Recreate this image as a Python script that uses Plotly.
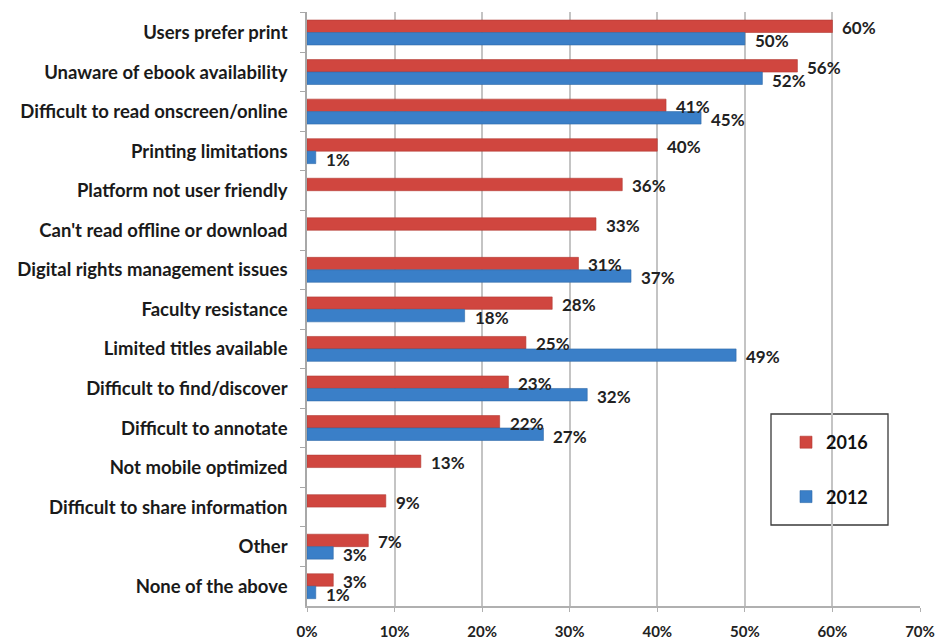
import plotly.graph_objects as go

# Reasons users give for not using ebooks, 2016 vs 2012 survey
categories = [
    "Users prefer print",
    "Unaware of ebook availability",
    "Difficult to read onscreen/online",
    "Printing limitations",
    "Platform not user friendly",
    "Can't read offline or download",
    "Digital rights management issues",
    "Faculty resistance",
    "Limited titles available",
    "Difficult to find/discover",
    "Difficult to annotate",
    "Not mobile optimized",
    "Difficult to share information",
    "Other",
    "None of the above",
]
values_2016 = [60, 56, 41, 40, 36, 33, 31, 28, 25, 23, 22, 13, 9, 7, 3]
values_2012 = [50, 52, 45, 1, None, None, 37, 18, 49, 32, 27, None, None, 3, 1]
x_ticks = [0, 10, 20, 30, 40, 50, 60, 70]

RED = "#D0463F"
BLUE = "#3A7FC8"
FONT = "Lato"

fig = go.Figure()
fig.add_trace(go.Bar(
    name="2016", y=categories, x=values_2016, orientation="h",
    marker=dict(color=RED, line=dict(color="#B23A34", width=0.6)),
    legendgroup="a",
))
fig.add_trace(go.Bar(
    name="2012", y=categories, x=values_2012, orientation="h",
    marker=dict(color=BLUE, line=dict(color="#2F69A8", width=0.6)),
    legendgroup="b",
))

# value labels just past the end of each bar
label_font = dict(family=FONT, size=17, color="#222222", weight=700)
annotations = []
for cat, v in zip(categories, values_2016):
    if v is not None:
        annotations.append(dict(
            x=v, y=cat, xref="x", yref="y", text=f"{v}%", showarrow=False,
            xanchor="left", yanchor="middle", xshift=8, yshift=5,
            font=label_font,
        ))
for cat, v in zip(categories, values_2012):
    if v is not None:
        annotations.append(dict(
            x=v, y=cat, xref="x", yref="y", text=f"{v}%", showarrow=False,
            xanchor="left", yanchor="middle", xshift=8, yshift=-8,
            font=label_font,
        ))

PLOT_L, PLOT_R, PLOT_T, PLOT_B = 307, 920, 12, 606
pw, ph = PLOT_R - PLOT_L, PLOT_B - PLOT_T

fig.update_layout(
    width=936, height=639,
    margin=dict(l=PLOT_L, r=936 - PLOT_R, t=PLOT_T, b=639 - PLOT_B),
    paper_bgcolor="white", plot_bgcolor="white",
    barmode="group", bargap=0.37, bargroupgap=0,
    font=dict(family=FONT, color="#1a1a1a"),
    annotations=annotations,
    showlegend=True,
    legend=dict(
        x=(786 - PLOT_L) / pw, y=1 - (424 - PLOT_T) / ph,
        xanchor="left", yanchor="top",
        bgcolor="rgba(0,0,0,0)", borderwidth=0,
        traceorder="grouped", tracegroupgap=28,
        font=dict(family=FONT, size=18, color="#111111", weight=700),
        itemwidth=30,
    ),
    shapes=[dict(
        type="rect", xref="paper", yref="paper",
        x0=(771 - PLOT_L) / pw, x1=(888 - PLOT_L) / pw,
        y0=1 - (525 - PLOT_T) / ph, y1=1 - (414 - PLOT_T) / ph,
        line=dict(color="#3a3a3a", width=1.3), fillcolor="white", layer="below",
    )],
)

fig.update_xaxes(
    range=[0, 70], tickvals=x_ticks, ticktext=[f"{t}%" for t in x_ticks],
    showgrid=True, gridcolor="#C4C4C4", gridwidth=1.5,
    showline=True, linecolor="#B0B0B0", linewidth=1.5,
    ticks="outside", ticklen=4, tickcolor="#B0B0B0",
    tickfont=dict(family=FONT, size=15, color="#222222", weight=700),
    ticklabelstandoff=7,
    zeroline=False, automargin=False,
)
fig.update_yaxes(
    autorange="reversed",
    showline=True, linecolor="#A8A8A8", linewidth=1.5,
    ticks="outside", tickson="boundaries", ticklen=5, tickcolor="#A8A8A8",
    tickfont=dict(family=FONT, size=18.5, color="#1a1a1a", weight=700),
    ticklabelstandoff=14, automargin=False,
)

fig.write_html("out.html")
